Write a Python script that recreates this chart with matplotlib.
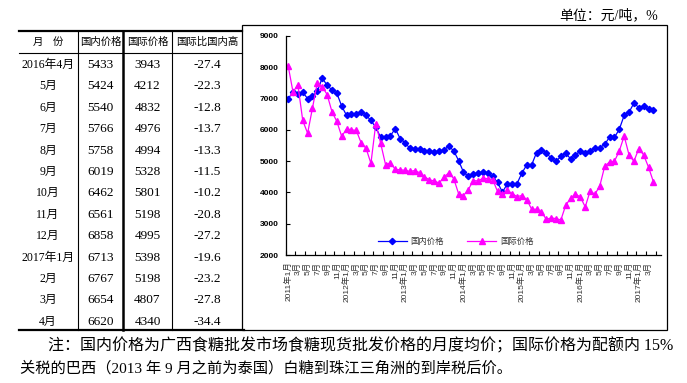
import numpy as np
import matplotlib
matplotlib.use("Agg")
import matplotlib.pyplot as plt
from matplotlib.patches import Rectangle

plt.rcParams['font.family'] = ['Liberation Serif', 'Noto Sans CJK SC']

# 表格：2016年4月 - 2017年4月（元/吨，%）
table_months = ["2016年4月", "5月", "6月", "7月", "8月", "9月", "10月", "11月", "12月",
                "2017年1月", "2月", "3月", "4月"]
table_domestic = [5433, 5424, 5540, 5766, 5758, 6019, 6462, 6561, 6858, 6713, 6767, 6654, 6620]
table_intl = [3943, 4212, 4832, 4976, 4994, 5328, 5801, 5198, 4995, 5398, 5198, 4807, 4340]
table_diff = ["-27.4", "-22.3", "-12.8", "-13.7", "-13.3", "-11.5", "-10.2", "-20.8", "-27.2",
              "-19.6", "-23.2", "-27.8", "-34.4"]

# 曲线：2011年1月 - 2016年3月（图上读数），之后接表格数据
domestic_early = [7000, 7200, 7150, 7200, 7000, 7070, 7240, 7660, 7420, 7280, 7170, 6760,
                  6460, 6500, 6510, 6580, 6470, 6300, 6080, 5760, 5760, 5810, 6040, 5720,
                  5590, 5410, 5390, 5400, 5340, 5330, 5290, 5310, 5360, 5480, 5330, 5020,
                  4650, 4510, 4580, 4610, 4660, 4610, 4510, 4320, 4010, 4270, 4280, 4280,
                  4620, 4880, 4880, 5270, 5360, 5270, 5090, 4990, 5150, 5260, 5070, 5200,
                  5320, 5270, 5330]
intl_early = [8050, 7210, 7440, 6300, 5890, 6700, 7510, 7380, 7130, 6580, 6270, 5790,
              6030, 6000, 5980, 5580, 5410, 4930, 6200, 5570, 4890, 4940, 4740, 4720,
              4710, 4670, 4700, 4630, 4505, 4400, 4370, 4300, 4485, 4633, 4440, 3960,
              3900, 4090, 4377, 4370, 4453, 4440, 4410, 4030, 3950, 4065, 3960, 3867,
              3900, 3770, 3463, 3463, 3377, 3143, 3185, 3164, 3121, 3590, 3814, 3942,
              3856, 3537, 4038]
domestic = domestic_early + table_domestic
international = intl_early + table_intl

tick_labels = ["2011年1月", "3月", "5月", "7月", "9月", "11月",
               "2012年1月", "3月", "5月", "7月", "9月", "11月",
               "2013年1月", "3月", "5月", "7月", "9月", "11月",
               "2014年1月", "3月", "5月", "7月", "9月", "11月",
               "2015年1月", "3月", "5月", "7月", "9月", "11月",
               "2016年1月", "3月", "5月", "7月", "9月", "11月",
               "2017年1月", "3月"]

note1 = "注：国内价格为广西食糖批发市场食糖现货批发价格的月度均价；国际价格为配额内 15%"
note2 = "关税的巴西（2013 年 9 月之前为泰国）白糖到珠江三角洲的到岸税后价。"

W, H = 687, 383
fig = plt.figure(figsize=(W / 100, H / 100), dpi=100)

# 背景层（像素坐标）：表格和外框
bg = fig.add_axes([0, 0, 1, 1])
bg.set_xlim(0, W)
bg.set_ylim(H, 0)
bg.axis("off")

bg.plot([19, 242], [31, 31], color="black", lw=1.6)
bg.plot([19, 242], [52.5, 52.5], color="black", lw=0.8)
bg.plot([19, 244], [330, 330], color="black", lw=1.6)
for xv, lw in [(78, 0.8), (123, 1.8), (172, 0.8)]:
    bg.plot([xv, xv], [31, 330], color="black", lw=lw)
bg.add_patch(Rectangle((242, 25), 424.7, 305, fill=False, lw=0.9, ec="black"))

col_x = [48, 100.5, 147.5, 207]
headers = ["月    份", "国内价格", "国际价格", "国际比国内高"]
for cx, h in zip(col_x, headers):
    bg.text(cx, 42, h, ha="center", va="center", fontsize=7.5, family=["Noto Sans CJK SC"])

for r in range(len(table_months)):
    y = 65 + 21.4 * r
    bg.text(col_x[0], y, table_months[r], ha="center", va="center", fontsize=8.5)
    bg.text(col_x[1], y, str(table_domestic[r]), ha="center", va="center", fontsize=9.5)
    bg.text(col_x[2], y, str(table_intl[r]), ha="center", va="center", fontsize=9.5)
    bg.text(col_x[3], y, table_diff[r], ha="center", va="center", fontsize=9.5)

bg.text(658, 15, "单位：元/吨，%", ha="right", va="center", fontsize=10)
bg.text(48, 346.5, note1, ha="left", va="center", fontsize=11.5)
bg.text(20, 368.5, note2, ha="left", va="center", fontsize=11)

# 折线图
ax = fig.add_axes([285.7 / W, 1 - 255 / H, 375 / W, 219 / H])
ax.patch.set_alpha(0)
xs = np.arange(len(domestic))
ax.plot(xs, domestic, color="#0000FF", lw=0.9, marker="D", ms=3.2, label="国内价格")
ax.plot(xs, international, color="#FF00FF", lw=0.9, marker="^", ms=4, label="国际价格")

ax.set_xlim(-0.5, 76.5)
ax.set_ylim(2000, 9000)
ax.set_yticks(range(2000, 9001, 1000))
ax.set_xticks(range(0, 76, 2))
ax.set_xticklabels(tick_labels, rotation=90, fontsize=6, color="#333333",
                   family=["Liberation Sans", "Noto Sans CJK SC"])
ax.set_xticks(np.arange(-0.5, 76, 2), minor=True)
ax.tick_params(axis="x", which="major", length=0, pad=4.8)
ax.tick_params(axis="x", which="minor", direction="in", length=3, width=0.8)
ax.tick_params(axis="y", direction="in", length=3, width=0.8, pad=5)
for lbl in ax.get_yticklabels():
    lbl.set_fontsize(6)
    lbl.set_fontweight("bold")
    lbl.set_family("Liberation Sans")
for s in ["top", "right"]:
    ax.spines[s].set_visible(False)
for s in ["left", "bottom"]:
    ax.spines[s].set_linewidth(0.9)

leg = ax.legend(loc="center", bbox_to_anchor=(455.4 / W, 1 - 241.7 / H),
                bbox_transform=fig.transFigure, ncol=2, frameon=False,
                handlelength=3.5, handletextpad=0.4, columnspacing=2.85,
                prop={"family": ["Noto Sans CJK SC"], "size": 6})
for t in leg.get_texts():
    t.set_color("#333333")

fig.savefig("out.png", dpi=100)
